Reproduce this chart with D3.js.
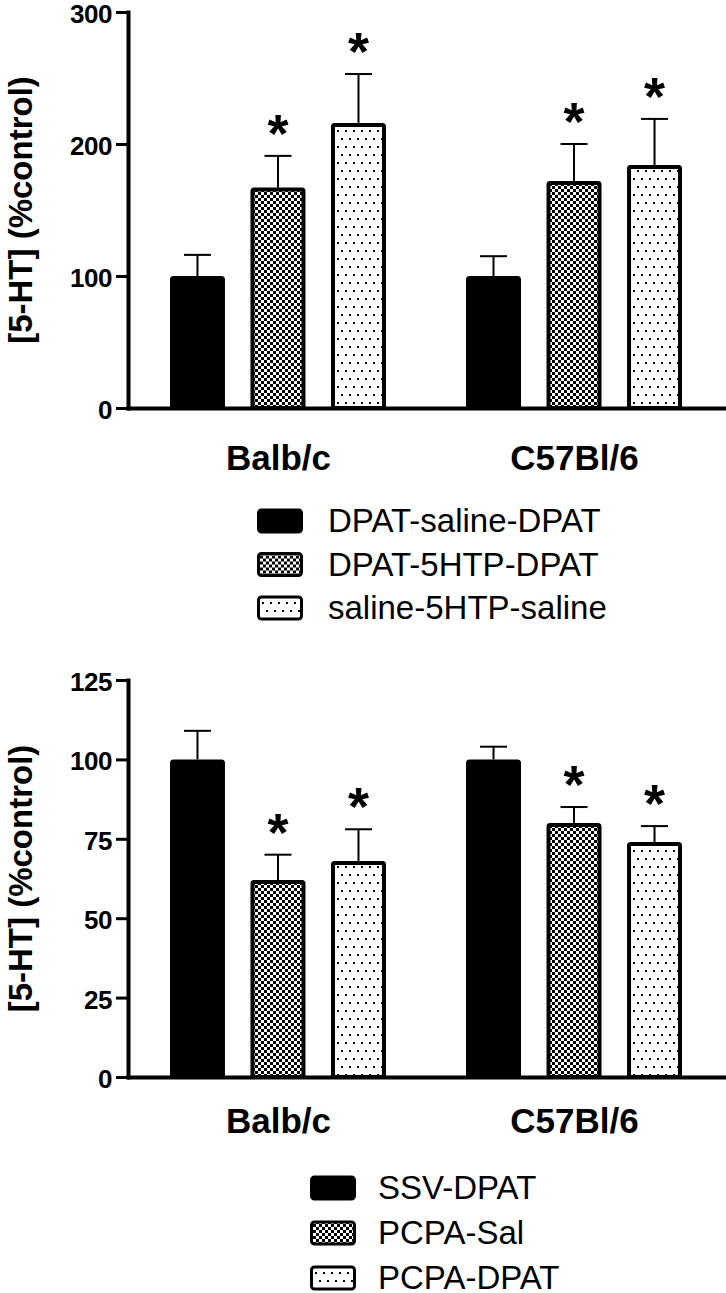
<!DOCTYPE html>
<html>
<head>
<meta charset="utf-8">
<script src="https://cdn.jsdelivr.net/npm/d3@7"></script>
<style>
  body { margin: 0; background: #fff; }
  text { font-family: "Liberation Sans", Arial, sans-serif; }
</style>
</head>
<body>
<div id="container"></div>
<script>
/* CONSTANTS AND GLOBALS */
const width = 726,
  height = 1293;

/* DATA */
const groups = ["Balb/c", "C57Bl/6"];

// top panel
const topSeries = ["DPAT-saline-DPAT", "DPAT-5HTP-DPAT", "saline-5HTP-saline"];
const topMeans = [[100, 167, 216], [100, 172, 184]];
const topErrors = [[16, 24, 37], [15, 28, 35]];
const topStars = [[false, true, true], [false, true, true]];
const topTicks = [0, 100, 200, 300];

// bottom panel
const bottomSeries = ["SSV-DPAT", "PCPA-Sal", "PCPA-DPAT"];
const bottomMeans = [[100, 62, 68], [100, 80, 74]];
const bottomErrors = [[9, 8, 10], [4, 5, 5]];
const bottomStars = [[false, true, true], [false, true, true]];
const bottomTicks = [0, 25, 50, 75, 100, 125];

const yTitle = "[5-HT] (%control)";

/* HTML ELEMENTS */
const svg = d3.select("#container")
  .append("svg")
  .attr("width", width)
  .attr("height", height);

// fill patterns
const defs = svg.append("defs");

const checker = defs.append("pattern")
  .attr("id", "checker")
  .attr("patternUnits", "userSpaceOnUse")
  .attr("width", 6)
  .attr("height", 6);
checker.append("rect").attr("width", 6).attr("height", 6).attr("fill", "#fff");
checker.append("rect").attr("width", 3).attr("height", 3).attr("fill", "#000");
checker.append("rect").attr("x", 3).attr("y", 3).attr("width", 3).attr("height", 3).attr("fill", "#000");

const dots = defs.append("pattern")
  .attr("id", "dots")
  .attr("patternUnits", "userSpaceOnUse")
  .attr("width", 8)
  .attr("height", 16);
dots.append("rect").attr("width", 8).attr("height", 16).attr("fill", "#fff");
dots.append("rect").attr("x", 1).attr("y", 2).attr("width", 2).attr("height", 2).attr("fill", "#000");
dots.append("rect").attr("x", 5).attr("y", 10).attr("width", 2).attr("height", 2).attr("fill", "#000");

const fills = ["#000", "url(#checker)", "url(#dots)"];

/* PANEL */
function drawPanel(p) {
  const g = svg.append("g");

  // scales
  const xGroup = d3.scalePoint()
    .domain(groups)
    .range([127, 725])
    .padding(0.51);

  const xBar = d3.scaleBand()
    .domain(p.series)
    .range([-108, 108])
    .paddingInner(0.317)
    .paddingOuter(0);

  const yScale = d3.scaleLinear()
    .domain([0, d3.max(p.ticks)])
    .range([p.yBottom, p.yTop]);

  // flatten for joins
  const rows = [];
  groups.forEach((grp, gi) => {
    p.series.forEach((s, si) => {
      rows.push({
        group: grp, series: s, si: si,
        mean: p.means[gi][si],
        err: p.errors[gi][si],
        star: p.stars[gi][si]
      });
    });
  });
  const bx = d => xGroup(d.group) + xBar(d.series);
  const bw = xBar.bandwidth();

  // bars
  g.selectAll(".bar")
    .data(rows)
    .join("rect")
    .attr("class", "bar")
    .attr("x", d => bx(d) + 2)
    .attr("y", d => yScale(d.mean) + 2)
    .attr("width", bw - 4)
    .attr("height", d => yScale(0) - yScale(d.mean) - 2)
    .attr("rx", 1.5)
    .attr("fill", d => fills[d.si])
    .attr("stroke", "#000")
    .attr("stroke-width", 4);

  // error bars
  g.selectAll(".err")
    .data(rows)
    .join("line")
    .attr("class", "err")
    .attr("x1", d => bx(d) + bw / 2)
    .attr("x2", d => bx(d) + bw / 2)
    .attr("y1", d => yScale(d.mean))
    .attr("y2", d => yScale(d.mean + d.err))
    .attr("stroke", "#000")
    .attr("stroke-width", 2);

  g.selectAll(".cap")
    .data(rows)
    .join("line")
    .attr("class", "cap")
    .attr("x1", d => bx(d) + bw / 2 - 13.5)
    .attr("x2", d => bx(d) + bw / 2 + 13.5)
    .attr("y1", d => yScale(d.mean + d.err))
    .attr("y2", d => yScale(d.mean + d.err))
    .attr("stroke", "#000")
    .attr("stroke-width", 2);

  // significance stars
  g.selectAll(".star")
    .data(rows.filter(d => d.star))
    .join("text")
    .attr("class", "star")
    .attr("x", d => bx(d) + bw / 2)
    .attr("y", d => yScale(d.mean + d.err) - 4)
    .attr("text-anchor", "middle")
    .attr("font-size", 54)
    .attr("font-weight", "bold")
    .text("*");

  // axes
  const yAxis = d3.axisLeft(yScale)
    .tickValues(p.ticks)
    .tickSize(12)
    .tickSizeOuter(0)
    .tickPadding(4);

  const yg = g.append("g")
    .attr("transform", "translate(128,0)")
    .call(yAxis);
  yg.select(".domain").attr("stroke-width", 4).attr("stroke-linecap", "square");
  yg.selectAll(".tick line").attr("stroke-width", 3);
  yg.selectAll(".tick text")
    .attr("dy", "0.4em")
    .attr("font-size", 26)
    .attr("font-weight", "bold")
    .attr("font-family", "Liberation Sans, Arial, sans-serif")
    .attr("letter-spacing", -0.5);

  const xAxis = d3.axisBottom(xGroup)
    .tickSize(0)
    .tickSizeOuter(0)
    .tickPadding(p.labelPad);

  const xg = g.append("g")
    .attr("transform", `translate(0,${yScale(0)})`)
    .call(xAxis);
  xg.select(".domain").attr("stroke-width", 4).attr("stroke-linecap", "round");
  xg.selectAll(".tick text")
    .attr("font-size", 35)
    .attr("font-weight", "bold")
    .attr("font-family", "Liberation Sans, Arial, sans-serif");

  // y title
  g.append("text")
    .attr("transform", `translate(32,${(p.yTop + p.yBottom) / 2}) rotate(-90)`)
    .attr("text-anchor", "middle")
    .attr("font-size", 33)
    .attr("font-weight", "bold")
    .text(yTitle);

  // legend
  const lg = g.append("g")
    .attr("transform", `translate(${p.legendX},${p.legendY})`);

  const item = lg.selectAll(".item")
    .data(p.series)
    .join("g")
    .attr("class", "item")
    .attr("transform", (d, i) => `translate(0,${i * p.legendStep})`);

  item.append("rect")
    .attr("x", 1.5)
    .attr("y", -11)
    .attr("width", 43)
    .attr("height", 22)
    .attr("rx", 3)
    .attr("fill", (d, i) => fills[i])
    .attr("stroke", "#000")
    .attr("stroke-width", 3);

  item.append("text")
    .attr("x", p.legendTextDx)
    .attr("y", 11)
    .attr("font-size", 33)
    .text(d => d);
}

drawPanel({
  series: topSeries, means: topMeans, errors: topErrors, stars: topStars,
  ticks: topTicks, yTop: 12, yBottom: 408, labelPad: 37,
  legendX: 257, legendY: 521, legendStep: 43.5, legendTextDx: 71
});

drawPanel({
  series: bottomSeries, means: bottomMeans, errors: bottomErrors, stars: bottomStars,
  ticks: bottomTicks, yTop: 680, yBottom: 1077, labelPad: 31,
  legendX: 310, legendY: 1188, legendStep: 45, legendTextDx: 68
});
</script>
</body>
</html>
